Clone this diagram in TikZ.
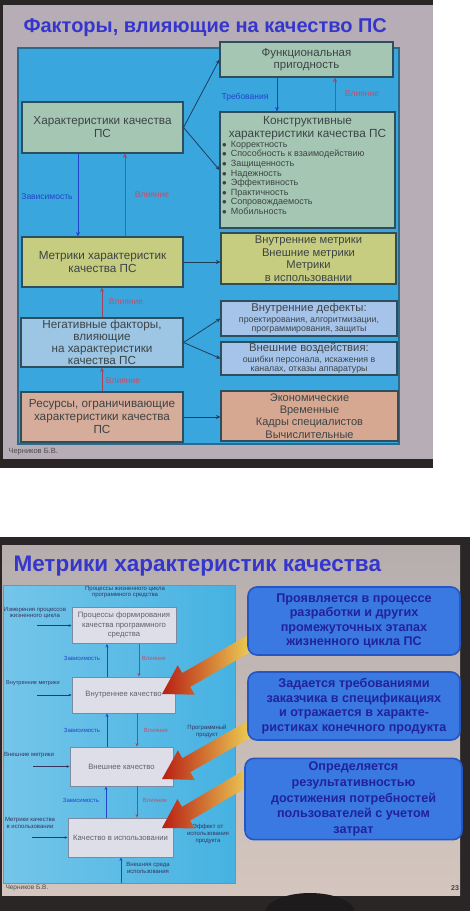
\documentclass[tikz,border=0pt]{standalone}
\usepackage{fontspec}
\setmainfont{Liberation Sans}
\usetikzlibrary{arrows.meta,calc}
\definecolor{photodark}{HTML}{2A2626}
\definecolor{slideA}{HTML}{B6ADB6}
\definecolor{slideBtop}{HTML}{B6AEAE}
\definecolor{slideBbot}{HTML}{D4C6BE}
\definecolor{panelA}{HTML}{3AA6DE}
\definecolor{panelB}{HTML}{46B2E2}
\definecolor{panelline}{HTML}{2A6A8A}
\definecolor{boxline}{HTML}{2E4E5E}
\definecolor{greenbox}{HTML}{A6C6B4}
\definecolor{yellowbox}{HTML}{C6CC80}
\definecolor{bluebox}{HTML}{9CC6E4}
\definecolor{bluebox2}{HTML}{A6C4EA}
\definecolor{tanbox}{HTML}{D6AC9A}
\definecolor{tanbox2}{HTML}{D6A892}
\definecolor{boxtext}{HTML}{3C4446}
\definecolor{titleblue}{HTML}{3636CC}
\definecolor{linkblue}{HTML}{2244C8}
\definecolor{linkred}{HTML}{C0506A}
\definecolor{arrowdark}{HTML}{1E3E5A}
\definecolor{whitebox}{HTML}{DEDEE8}
\definecolor{whiteline}{HTML}{7A8AA0}
\definecolor{greytext}{HTML}{606070}
\definecolor{tinytext}{HTML}{34345E}
\definecolor{rbfill}{HTML}{3A78E2}
\definecolor{rbline}{HTML}{2656C4}
\definecolor{rbtext}{HTML}{22229A}
\definecolor{arrtip}{HTML}{B81E14}
\definecolor{arrmid}{HTML}{E8641E}
\definecolor{arrtail}{HTML}{F2E05A}
\newcommand\fsz[2]{\fontsize{#1}{#2}\selectfont}
\newcommand\bigarr[2]{%
  \begin{scope}[shift={(#1)},rotate=#2]
    \shade[left color=arrtip,middle color=arrmid,right color=arrtail]
      (0,0) -- (28,17) -- (28,8) -- (108,8) -- (108,-8) -- (28,-8) -- (28,-17) -- cycle;
  \end{scope}}
\begin{document}
\begin{tikzpicture}[x=1pt,y=-1pt,
  box/.style={draw=boxline,line width=1.1pt,align=center,inner sep=1pt,text=boxtext,font=\fsz{11.7}{13}},
  conn/.style={draw=arrowdark,line width=0.8pt,-{Stealth[length=4.5pt,width=4pt]}},
  bconn/.style={draw=linkblue,line width=1pt,-{Stealth[length=4.5pt,width=4pt]}},
  rconn/.style={draw=linkred!85!black,line width=1pt,-{Stealth[length=4.5pt,width=4pt]}},
  blab/.style={text=linkblue,font=\fsz{8.5}{9}},
  rlab/.style={text=linkred,font=\fsz{8.5}{9}},
  wbox/.style={draw=whiteline,line width=0.9pt,fill=whitebox,align=center,inner sep=1pt,text=greytext,font=\fsz{7.7}{9.5}},
  tiny/.style={align=center,text=tinytext,font=\fsz{6}{6.8}},
  tconn/.style={draw=tinytext,line width=0.6pt,-{Stealth[length=3pt,width=2.6pt]}},
  tbconn/.style={draw=linkblue,line width=0.9pt,-{Stealth[length=3.5pt,width=3pt]}},
  trconn/.style={draw=linkred!85!black,line width=0.7pt,-{Stealth[length=3.5pt,width=3pt]}},
  rbox/.style={draw=rbline,line width=1.6pt,fill=rbfill,rounded corners=9pt,align=center,text=rbtext,font=\bfseries\fsz{12.6}{14.6}}
]
\useasboundingbox (0,0) rectangle (476,911);
\fill[white] (0,0) rectangle (476,911);
% ---------------- photo 1 ----------------
\fill[photodark] (0,0) rectangle (433,468);
\fill[slideA] (3,5) rectangle (433,459);
\node[anchor=west,text=titleblue,font=\bfseries\fsz{20}{22}] (t1) at (20,28) {Факторы, влияющие на качество ПС};
\filldraw[fill=panelA,draw=panelline,line width=1.2pt] (18,48) rectangle (399,444);

\node[box,fill=greenbox,minimum width=173pt,minimum height=35pt,font=\fsz{11.5}{12}] (fp) at (306.5,59.5) {Функциональная\\пригодность};
\node[box,fill=greenbox,minimum width=161pt,minimum height=51pt] (hk) at (102.5,127.5) {Характеристики качества\\ПС};
\node[box,fill=greenbox,minimum width=175pt,minimum height=116pt] (kk) at (307.5,170) {};
\node[align=center,text=boxtext,font=\fsz{11.8}{12.5},anchor=north] (kkh) at (307.5,113) {Конструктивные\\характеристики качества ПС};
\node[align=left,text=boxtext,font=\fsz{9}{9.6},anchor=north west,inner sep=0pt] (kkl) at (222,141) {
$\bullet$\hspace{4pt}Корректность\\
$\bullet$\hspace{4pt}Способность к взаимодействию\\
$\bullet$\hspace{4pt}Защищенность\\
$\bullet$\hspace{4pt}Надежность\\
$\bullet$\hspace{4pt}Эффективность\\
$\bullet$\hspace{4pt}Практичность\\
$\bullet$\hspace{4pt}Сопровождаемость\\
$\bullet$\hspace{4pt}Мобильность};
\node[box,fill=yellowbox,minimum width=161pt,minimum height=50pt] (mk) at (102.5,262) {Метрики характеристик\\качества ПС};
\node[box,fill=yellowbox,minimum width=175pt,minimum height=51pt,font=\fsz{11.2}{12.5}] (mr) at (308.5,258.5) {Внутренние метрики\\Внешние метрики\\Метрики\\в использовании};
\node[box,fill=bluebox,minimum width=162pt,minimum height=49pt,font=\fsz{11.7}{11.8}] (nf) at (102,342.5) {Негативные факторы,\\влияющие\\на характеристики\\качества ПС};
\node[box,fill=bluebox2,minimum width=176pt,minimum height=35pt,font=\fsz{11.3}{9.5}] (vd) at (309,318.5) {Внутренние дефекты:\\[1pt]{\fsz{8.8}{9}проектирования, алгоритмизации,}\\{\fsz{8.8}{9}программирования, защиты}};
\node[box,fill=bluebox2,minimum width=176pt,minimum height=33pt,font=\fsz{11.3}{9.5}] (vv) at (309,358.5) {Внешние воздействия:\\[1pt]{\fsz{8.8}{9}ошибки персонала, искажения в}\\{\fsz{8.8}{9}каналах, отказы аппаратуры}};
\node[box,fill=tanbox,minimum width=162pt,minimum height=50pt] (rs) at (102,417) {Ресурсы, ограничивающие\\характеристики качества\\ПС};
\node[box,fill=tanbox2,minimum width=177pt,minimum height=50pt,font=\fsz{11}{12.3}] (ek) at (309.5,416) {Экономические\\Временные\\Кадры специалистов\\Вычислительные};

\draw[conn] (hk.east) -- (fp.west);
\draw[conn] (hk.east) -- (kk.west);
\draw[bconn] (277,0 |- fp.south) -- (277,0 |- kk.north);
\draw[rconn] (335,0 |- kk.north) -- (335,0 |- fp.south);
\draw[bconn] (78,0 |- hk.south) -- (78,0 |- mk.north);
\draw[rconn] (125,0 |- mk.north) -- (125,0 |- hk.south);
\draw[conn] (mk.east) -- (mk.east -| mr.west);
\draw[rconn] (102,0 |- nf.north) -- (102,0 |- mk.south);
\draw[conn] (nf.east) -- (vd.west);
\draw[conn] (nf.east) -- (vv.west);
\draw[rconn] (102,0 |- rs.north) -- (102,0 |- nf.south);
\draw[conn] (rs.east) -- (rs.east -| ek.west);

\node[blab] (l1) at (245,97) {Требования};
\node[rlab] (l2) at (362,94) {Влияние};
\node[blab] (l3) at (47,197) {Зависимость};
\node[rlab] (l4) at (152,195) {Влияние};
\node[rlab] (l5) at (126,302) {Влияние};
\node[rlab] (l6) at (123,381) {Влияние};
\node[anchor=west,text=black!70,font=\fsz{7.5}{8}] (f1) at (5,452) {Черников Б.В.};

% ---------------- photo 2 ----------------
\fill[photodark] (0,537) rectangle (470,911);
\fill[top color=slideBtop,bottom color=slideBbot] (2,545) rectangle (460,895);
\fill[photodark!70!black] (310,913) ellipse (45pt and 20pt);
\node[anchor=west,text=titleblue,font=\bfseries\fsz{22.5}{24}] (t2) at (10,566) {Метрики характеристик качества};
\filldraw[left color=panelB!75!white,right color=panelB,draw=panelline!70,line width=0.9pt] (3,585) rectangle (235,883);

\node[tiny] (pz) at (125,592) {Процессы жизненного цикла\\программного средства};
\node[wbox,minimum width=104pt,minimum height=36pt] (p1) at (124,625.5) {Процессы формирования\\качества программного\\средства};
\node[wbox,minimum width=103pt,minimum height=36pt] (iq) at (123.5,695) {Внутреннее качество};
\node[wbox,minimum width=103pt,minimum height=39pt] (eq) at (121.5,766.5) {Внешнее качество};
\node[wbox,minimum width=105pt,minimum height=39pt] (uq) at (120.5,837.5) {Качество в использовании};

\node[tiny] (m1) at (35,613) {Измерения процессов\\жизненного цикла};
\node[tiny,font=\fsz{5.6}{6.5}] (m2) at (33,683) {Внутренние метрики};
\node[tiny] (m3) at (29,755) {Внешние метрики};
\node[tiny] (m4) at (30,823) {Метрики качества\\в использовании};
\coordinate (c1) at (37,625.5);
\coordinate (c2) at (37,695);
\coordinate (c3) at (33,766.5);
\coordinate (c4) at (32,837.5);
\draw[tconn] (c1) -- (p1.west);
\draw[tconn] (c2) -- (iq.west);
\draw[tconn] (c3) -- (eq.west);
\draw[tconn] (c4) -- (uq.west);

\draw[tbconn] (107,0 |- iq.north) -- (107,0 |- p1.south);
\draw[trconn] (139,0 |- p1.south) -- (139,0 |- iq.north);
\draw[tbconn] (107,0 |- eq.north) -- (107,0 |- iq.south);
\draw[trconn] (137,0 |- iq.south) -- (137,0 |- eq.north);
\draw[tbconn] (106,0 |- uq.north) -- (106,0 |- eq.south);
\draw[trconn] (137,0 |- eq.south) -- (137,0 |- uq.north);
\coordinate (c5) at (121,883);
\draw[tbconn] (c5) -- (c5 |- uq.south);

\node[blab,font=\fsz{6}{6.5}] (z1) at (82,658) {Зависимость};
\node[rlab,font=\fsz{6}{6.5}] (v1) at (154,658) {Влияние};
\node[blab,font=\fsz{6}{6.5}] (z2) at (82,730) {Зависимость};
\node[rlab,font=\fsz{6}{6.5}] (v2) at (156,730) {Влияние};
\node[blab,font=\fsz{6}{6.5}] (z3) at (81,800) {Зависимость};
\node[rlab,font=\fsz{6}{6.5}] (v3) at (155,800) {Влияние};
\node[tiny] (pp) at (207,731) {Программный\\продукт};
\node[tiny] (ef) at (208,834) {Эффект от\\использования\\продукта};
\node[tiny] (vs) at (148,868) {Внешняя среда\\использования};

% big gradient arrows (behind the blue boxes), tip at the given point
\bigarr{162,694}{30.1}
\bigarr{162,779}{29.7}
\bigarr{162,828}{30.6}

\node[rbox,minimum width=212pt,minimum height=68pt] (bb1) at (354,621) {Проявляется в процессе\\разработки и других\\промежуточных этапах\\жизненного цикла ПС};
\node[rbox,minimum width=212pt,minimum height=68pt] (bb2) at (354,706) {Задается требованиями\\заказчика в спецификациях\\и отражается в характе-\\ристиках конечного продукта};
\node[rbox,minimum width=217pt,minimum height=80pt,font=\bfseries\fsz{12.6}{15.8}] (bb3) at (353.5,799) {Определяется\\результативностью\\достижения потребностей\\пользователей с учетом\\затрат};

\node[anchor=west,text=black!70,font=\fsz{6.5}{7}] (f2) at (2,888) {Черников Б.В.};
\node[text=black!75,font=\bfseries\fsz{7}{8}] (pg) at (455,888) {23};
\end{tikzpicture}
\end{document}
